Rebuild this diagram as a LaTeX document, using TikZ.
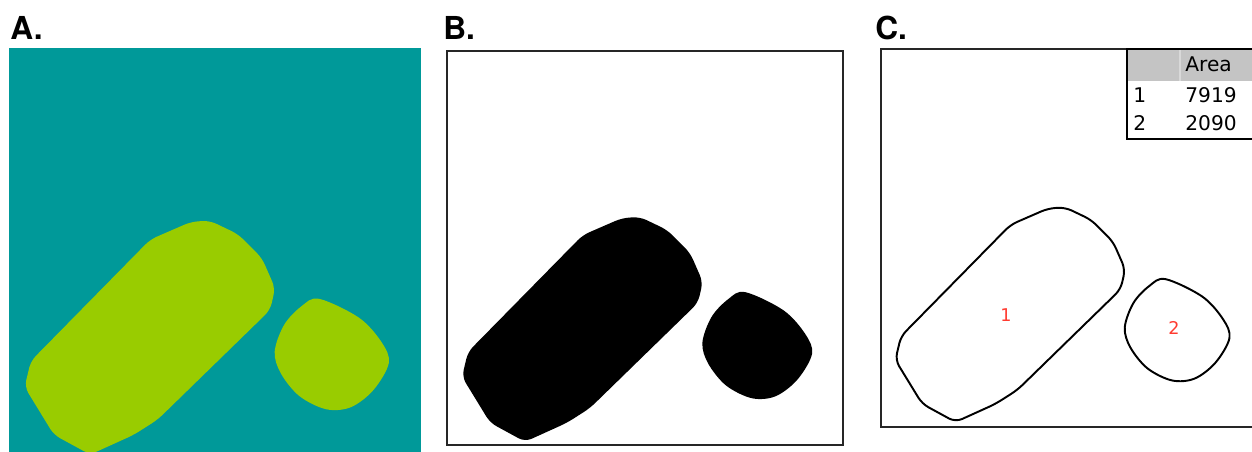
\documentclass[tikz,border=0pt]{standalone}
\usepackage{fontspec}
\setmainfont{TeX Gyre Heros}
\newfontfamily\tablefont{DejaVu Sans}
\usepackage{tikz}
\usetikzlibrary{positioning}
\definecolor{maskteal}{HTML}{009999}
\definecolor{maskgreen}{HTML}{99CC00}
\definecolor{headgray}{HTML}{C4C4C4}
\definecolor{roired}{HTML}{FF3B30}
\tikzset{
  panellabel/.style={anchor=base west, inner sep=0pt, font=\fontsize{18}{18}\selectfont\bfseries},
  frame/.style={draw=black!85, line width=0.9pt},
  outline/.style={draw=black, line width=1.1pt, line join=round},
  tabtext/.style={anchor=base west, inner sep=0pt, font=\tablefont\fontsize{11.5}{13}\selectfont},
  roilabel/.style={inner sep=0pt, text=roired, font=\tablefont\fontsize{10}{11}\selectfont},
  bigcell/.pic={
    \path[pic actions, rounded corners=4pt] (0.343,0.465) -- (0.442,0.422) -- (0.487,0.419)
      -- (0.556,0.452) -- (0.614,0.510) -- (0.646,0.583) -- (0.634,0.636) -- (0.361,0.902)
      -- (0.303,0.939) -- (0.197,0.987) -- (0.109,0.939) -- (0.038,0.823) -- (0.053,0.760) -- cycle;
  },
  smallcell/.pic={
    \path[pic actions] plot[smooth cycle, tension=0.55] coordinates {(0.753,0.609) (0.850,0.655)
      (0.905,0.715) (0.922,0.765) (0.885,0.830) (0.830,0.872) (0.770,0.877) (0.705,0.845)
      (0.660,0.790) (0.645,0.737) (0.668,0.672) (0.710,0.627)};
  }
}

\begin{document}
\begin{tikzpicture}[x=0.02cm, y=-0.02cm]
  \useasboundingbox (0,0) rectangle (1252,452);

  % A: segmentation mask
  \node[panellabel] (labA) at (10,40) {A.};
  \fill[maskteal] (9,48) rectangle (421,452);
  \begin{scope}[shift={(9,48)}, x=8.24cm, y=-8.24cm]
    \pic[fill=maskgreen] {bigcell};
    \pic[fill=maskgreen] {smallcell};
  \end{scope}

  % B: binary image
  \node[panellabel] (labB) at (443,40) {B.};
  \draw[frame] (447,51) rectangle (843,445);
  \begin{scope}[shift={(447,51)}, x=7.92cm, y=-7.92cm]
    \pic[fill=black] {bigcell};
    \pic[fill=black] {smallcell};
  \end{scope}

  % C: outlines and measurements
  \node[panellabel] (labC) at (875,40) {C.};
  \draw[frame] (1252,49) -- (881,49) -- (881,427) -- (1252,427);
  \begin{scope}[shift={(881,49)}, x=7.56cm, y=-7.56cm]
    \pic[outline] {bigcell};
    \pic[outline] {smallcell};
  \end{scope}
  \node[roilabel] (roi1) at (1006,315) {1};
  \node[roilabel] (roi2) at (1174,328) {2};

  \fill[headgray] (1127,49) rectangle (1252,81);
  \fill[white] (1127,81) rectangle (1252,139);
  \draw[white!85!black, line width=0.6pt] (1180,49) -- (1180,81);
  \draw[black, line width=1.1pt] (1252,49) -- (1127,49) -- (1127,139) -- (1252,139);
  \node[tabtext] (hdr) at (1185,72) {Area};
  \node[tabtext] (row1) at (1133,103) {1};
  \node[tabtext] (val1) at (1185,103) {7919};
  \node[tabtext] (row2) at (1133,131) {2};
  \node[tabtext] (val2) at (1185,131) {2090};
\end{tikzpicture}
\end{document}
